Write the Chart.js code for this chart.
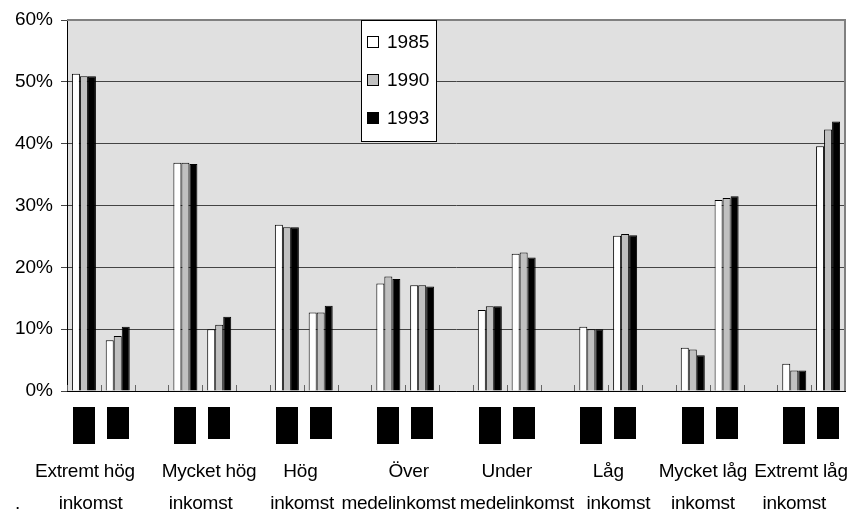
<!DOCTYPE html>
<html>
<head>
<meta charset="utf-8">
<script src="https://cdn.jsdelivr.net/npm/chart.js@4.4.0/dist/chart.umd.min.js"></script>
<style>
    html, body { margin: 0; padding: 0; background: #fff; }
</style>
</head>
<body>
<canvas id="incomeChart" width="850" height="514"></canvas>
<script>
// Income groups, written on two lines under the axis
const incomeGroups = [
    ['Extremt hög', 'inkomst'],
    ['Mycket hög', 'inkomst'],
    ['Hög', 'inkomst'],
    ['Över', 'medelinkomst'],
    ['Under', 'medelinkomst'],
    ['Låg', 'inkomst'],
    ['Mycket låg', 'inkomst'],
    ['Extremt låg', 'inkomst']
];
const years = ['1985', '1990', '1993'];

// share in percent, two sub-groups (left, right) per income group
const share1985 = [[51.3, 8.2], [36.9, 10.0], [26.9, 12.7], [17.4, 17.1], [13.1, 22.2], [10.4, 25.1], [7.0, 30.9], [4.4, 39.6]];
const share1990 = [[50.9, 8.9], [36.9, 10.7], [26.5, 12.7], [18.5, 17.1], [13.7, 22.4], [10.0, 25.4], [6.7, 31.2], [3.3, 42.3]];
const share1993 = [[50.9, 10.4], [36.7, 12.0], [26.5, 13.8], [18.1, 16.9], [13.7, 21.6], [10.0, 25.2], [5.8, 31.5], [3.3, 43.6]];

const yTicks = [0, 10, 20, 30, 40, 50, 60];

const FONT = '"Liberation Sans", Arial, sans-serif';

// one slot per sub-group, with an empty slot between income groups
const slots = [];
incomeGroups.forEach((g, i) => {
    slots.push({ group: i, side: 0 });
    slots.push({ group: i, side: 1 });
    if (i < incomeGroups.length - 1) slots.push(null);
});

function toSlots(pairs) {
    return slots.map(s => s ? pairs[s.group][s.side] : null);
}

// Draws the gray plot area, sub-group markers, the two-line labels and the legend
const excelFrame = {
    id: 'excelFrame',
    beforeDraw(chart) {
        const { ctx, chartArea: a } = chart;
        ctx.save();
        ctx.fillStyle = '#e0e0e0';
        ctx.fillRect(a.left, a.top, a.right - a.left, a.bottom - a.top);
        ctx.restore();
    },
    afterDatasetsDraw(chart) {
        const { ctx, chartArea: a, scales: { x } } = chart;
        ctx.save();
        // small inside tick marks between slots
        ctx.strokeStyle = '#666';
        ctx.lineWidth = 1;
        for (let i = 0; i <= slots.length; i++) {
            const px = Math.round(x.getPixelForValue(i - 0.5)) + 0.5;
            ctx.beginPath();
            ctx.moveTo(px, a.bottom - 6);
            ctx.lineTo(px, a.bottom);
            ctx.stroke();
        }
        // frame on top and right
        ctx.strokeStyle = '#808080';
        ctx.lineWidth = 2;
        ctx.beginPath();
        ctx.moveTo(a.left, a.top);
        ctx.lineTo(a.right, a.top);
        ctx.lineTo(a.right, a.bottom);
        ctx.stroke();
        ctx.restore();
    },
    afterDraw(chart, args, opts) {
        const { ctx, chartArea: a, scales: { x } } = chart;
        ctx.save();

        // sub-group markers (missing symbol glyphs in the original)
        ctx.fillStyle = '#000';
        slots.forEach((s, i) => {
            if (!s) return;
            const cx = x.getPixelForValue(i);
            const h = s.side === 0 ? 37 : 32;
            ctx.fillRect(Math.round(cx - 11), a.bottom + 16, 22, h);
        });

        // two-line income group labels
        ctx.font = '19px ' + FONT;
        ctx.letterSpacing = '-0.25px';
        ctx.textAlign = 'center';
        ctx.textBaseline = 'alphabetic';
        incomeGroups.forEach((g, i) => {
            ctx.fillText(g[0], x.getPixelForValue(opts.line1[i]), a.bottom + 86);
            ctx.fillText(g[1], x.getPixelForValue(opts.line2[i]), a.bottom + 118);
        });
        ctx.textAlign = 'left';
        ctx.fillText('.', 15, a.bottom + 118);
        ctx.letterSpacing = '0px';

        // legend box
        const lx = opts.legendX, ly = a.top, lw = 75, lh = 121;
        ctx.fillStyle = '#fff';
        ctx.fillRect(lx, ly, lw, lh);
        ctx.strokeStyle = '#000';
        ctx.lineWidth = 1;
        ctx.strokeRect(lx + 0.5, ly + 0.5, lw, lh);
        ctx.textBaseline = 'middle';
        chart.data.datasets.forEach((ds, i) => {
            const cy = ly + 22 + i * 38;
            ctx.fillStyle = ds.backgroundColor;
            ctx.fillRect(lx + 6, cy - 6, 12, 12);
            ctx.strokeStyle = '#000';
            ctx.strokeRect(lx + 6.5, cy - 5.5, 11, 11);
            ctx.fillStyle = '#000';
            ctx.fillText(ds.label, lx + 26, cy + 1);
        });
        ctx.restore();
    }
};

const fills = ['#ffffff', '#c0c0c0', '#000000'];
const shares = [share1985, share1990, share1993];

new Chart(document.getElementById('incomeChart'), {
    type: 'bar',
    data: {
        labels: slots.map((s, i) => 'slot' + i),
        datasets: years.map((y, i) => ({
            label: y,
            data: toSlots(shares[i]),
            backgroundColor: fills[i],
            borderColor: '#000',
            borderWidth: 1,
            categoryPercentage: 0.71,
            barPercentage: 1.0
        }))
    },
    options: {
        responsive: false,
        animation: false,
        layout: { padding: { top: 20, right: 5, bottom: 123, left: 0 } },
        scales: {
            x: {
                offset: true,
                grid: { display: false },
                ticks: { display: false },
                border: { display: true, color: '#000', width: 1 },
                afterFit: s => { s.height = 0; }
            },
            y: {
                min: 0,
                max: 60,
                afterBuildTicks: s => { s.ticks = yTicks.map(v => ({ value: v })); },
                ticks: {
                    color: '#000',
                    padding: 8,
                    font: { family: FONT, size: 19 },
                    callback: v => v + '%'
                },
                grid: { color: '#444', lineWidth: 1, tickLength: 6 },
                border: { display: true, color: '#000', width: 1 },
                afterFit: s => { s.width = 67; }
            }
        },
        plugins: {
            legend: { display: false },
            tooltip: { enabled: false },
            excelFrame: {
                legendX: 361,
                line1: [0.03, 3.7, 6.4, 9.6, 12.5, 15.5, 18.3, 21.2],
                line2: [0.2, 3.45, 6.45, 9.3, 12.8, 15.8, 18.3, 21.0]
            }
        }
    },
    plugins: [excelFrame]
});
</script>
</body>
</html>
